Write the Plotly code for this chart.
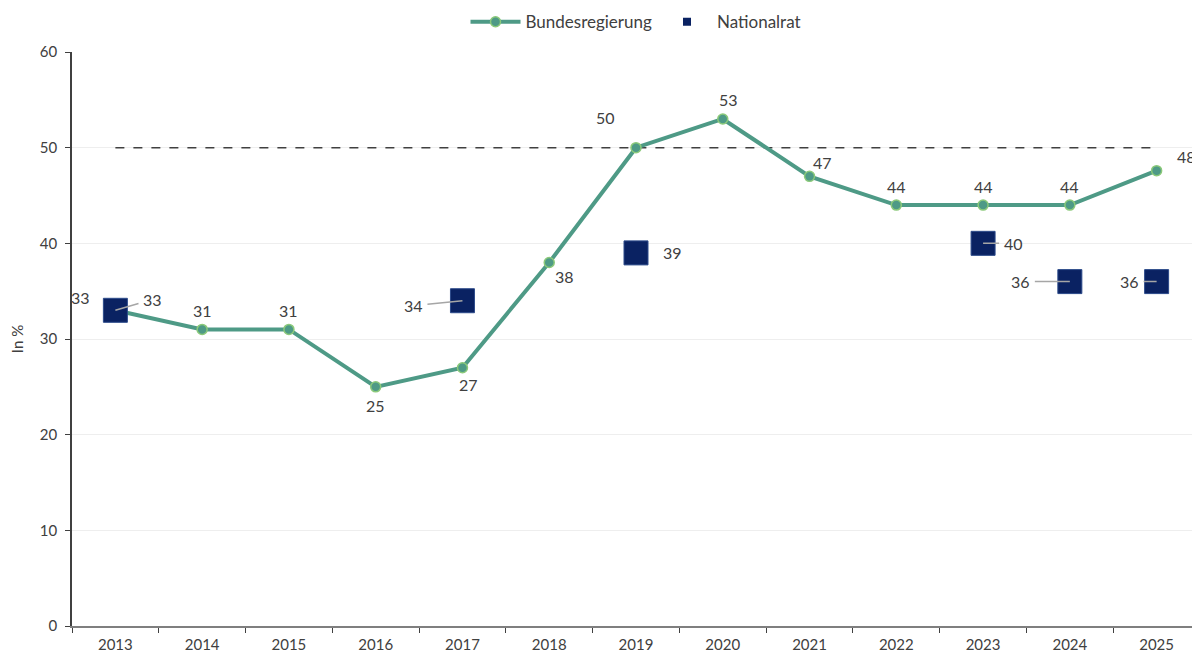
import plotly.graph_objects as go

years = ["2013", "2014", "2015", "2016", "2017", "2018", "2019",
         "2020", "2021", "2022", "2023", "2024", "2025"]
bundesregierung = [33, 31, 31, 25, 27, 38, 50, 53, 47, 44, 44, 44, 47.6]
nationalrat = [33, None, None, None, 34, None, 39, None, None, None, 40, 36, 36]
target = 50

# label offsets (px) for the Bundesregierung data labels
bund_offsets = [(-35, 13), (0, 19), (0, 19), (0, -19), (6, -17), (15, -14), (-31, 30),
                (6, 19), (13, 14), (0, 19), (0, 19), (0, 19), (30, 14)]
# label offsets (px) for the Nationalrat labels: (ax, ay, leader)
nat_offsets = {0: (37, -11, True), 4: (-49, 5, True), 6: (36, 0, False),
               10: (30, 0, True), 11: (-49, 0, True), 12: (-27, 0, True)}

FONT = "Lato"
TXT = "#404040"
NAVY = "#0A2262"

fig = go.Figure()
fig.add_trace(go.Scatter(x=years, y=[target] * len(years), mode="lines",
                         line=dict(color="#404040", width=1.5, dash="dash"),
                         showlegend=False, hoverinfo="skip"))
fig.add_trace(go.Scatter(x=years, y=bundesregierung, mode="lines+markers",
                         name="Bundesregierung",
                         line=dict(color="#4E9A86", width=4),
                         marker=dict(size=10, color="#4E9A86",
                                     line=dict(color="#8BC97A", width=1.5))))
fig.add_trace(go.Scatter(x=years, y=nationalrat, mode="markers", name="Nationalrat",
                         showlegend=False,
                         marker=dict(symbol="square", size=24, color=NAVY,
                                     line=dict(color="#2C4A8A", width=1))))
# legend entry with the small square symbol used in the reference legend
fig.add_trace(go.Scatter(x=[None], y=[None], mode="markers", name="Nationalrat",
                         marker=dict(symbol="square", size=8, color=NAVY)))

ann = []
for i, v in enumerate(bundesregierung):
    dx, dy = bund_offsets[i]
    ann.append(dict(x=i, y=v, text=f"{v:.0f}", showarrow=False, xshift=dx, yshift=dy,
                    font=dict(family=FONT, size=16, color=TXT)))
for i, v in enumerate(nationalrat):
    if v is None:
        continue
    ax, ay, leader = nat_offsets[i]
    if leader:
        ann.append(dict(x=i, y=v, text=f"{v:.0f}", showarrow=True,
                        ax=ax, ay=ay, arrowhead=0, arrowwidth=1.5, arrowcolor="#A6A6A6",
                        standoff=0, startstandoff=3,
                        font=dict(family=FONT, size=16, color=TXT)))
    else:
        ann.append(dict(x=i, y=v, text=f"{v:.0f}", showarrow=False,
                        xshift=ax, yshift=-ay,
                        font=dict(family=FONT, size=16, color=TXT)))

fig.update_layout(
    width=1192, height=647,
    margin=dict(l=64, r=0, t=44, b=29, autoexpand=False),
    paper_bgcolor="white", plot_bgcolor="white",
    font=dict(family=FONT, size=15, color=TXT),
    annotations=ann,
    legend=dict(orientation="h", x=0.5, xanchor="center", y=1.052, yanchor="middle",
                font=dict(family=FONT, size=17, color=TXT), itemwidth=50),
    xaxis=dict(type="category", range=[-0.5, len(years) - 0.5], showgrid=False,
               showline=True, linecolor="#7F7F7F",
               linewidth=2, ticks="outside", tickson="boundaries", ticklen=5,
               tickcolor="#404040", ticklabelstandoff=4,
               tickfont=dict(family=FONT, size=15, color=TXT)),
    yaxis=dict(range=[0, 60], dtick=10, showgrid=True, gridcolor="#EEEEEE",
               showline=True, linecolor="#404040", linewidth=1.5, zeroline=False,
               ticks="outside", ticklen=5, tickcolor="#404040", ticklabelstandoff=5,
               tickfont=dict(family=FONT, size=15, color=TXT),
               title=dict(text="In %", font=dict(family=FONT, size=15, color=TXT),
                          standoff=17)),
)

fig.write_html("out.html")
